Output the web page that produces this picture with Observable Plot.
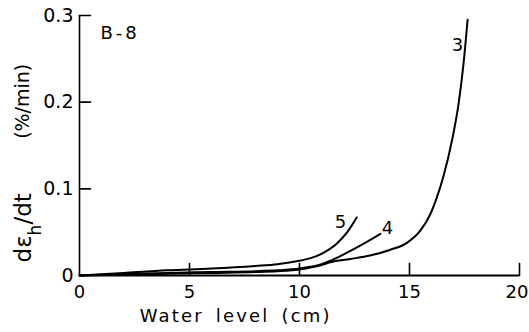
<!DOCTYPE html>
<html>
<head>
<meta charset="utf-8">
<script src="https://cdn.jsdelivr.net/npm/d3@7"></script>
<script src="https://cdn.jsdelivr.net/npm/@observablehq/plot@0.6"></script>
<style>
  html, body { margin: 0; padding: 0; background: #fff; }
  #chart svg { display: block; }
  .spaced text { letter-spacing: 2.2px; word-spacing: 4px; }
  .tag text { letter-spacing: 3px; }
</style>
</head>
<body>
<div id="chart"></div>
<script>
// Creep strain rate against water level, specimen B-8
const curve3X = [0, 2, 4, 6, 8, 9, 10, 11, 11.4, 12.3, 13.2, 14.1, 14.9, 15.5, 15.95, 16.2, 16.55, 16.95, 17.23, 17.45, 17.64];
const curve3Y = [0, 0.001, 0.002, 0.003, 0.004, 0.005, 0.007, 0.012, 0.0153, 0.019, 0.023, 0.0295, 0.038, 0.052, 0.071, 0.087, 0.115, 0.158, 0.198, 0.243, 0.295];

const curve4X = [0, 2, 4, 6, 8, 9, 10, 10.5, 11, 11.4, 11.9, 12.8, 13.68];
const curve4Y = [0, 0.0015, 0.003, 0.004, 0.005, 0.006, 0.008, 0.010, 0.013, 0.017, 0.023, 0.035, 0.048];

const curve5X = [0, 2, 4, 6, 8, 9, 10, 10.5, 11, 11.4, 11.7, 12.17, 12.6];
const curve5Y = [0, 0.003, 0.006, 0.008, 0.011, 0.013, 0.017, 0.020, 0.025, 0.031, 0.037, 0.050, 0.067];

const curveNames = ["3", "4", "5"];
const labelX = [17.18, 14.0, 11.86];
const labelY = [0.266, 0.054, 0.061];

const xTicks = [0, 5, 10, 15, 20];
const xTickLabels = ["0", "5", "10", "15", "20"];
const yTicks = [0, 0.1, 0.2, 0.3];
const yTickLabels = ["0", "0.1", "0.2", "0.3"];

const series = [
  {name: curveNames[0], xs: curve3X, ys: curve3Y},
  {name: curveNames[1], xs: curve4X, ys: curve4Y},
  {name: curveNames[2], xs: curve5X, ys: curve5Y}
];
const points = series.flatMap(s => s.xs.map((x, i) => ({name: s.name, x, y: s.ys[i]})));
const labels = curveNames.map((n, i) => ({name: n, x: labelX[i], y: labelY[i]}));
const xLabelRows = xTicks.map((x, i) => ({x, label: xTickLabels[i]}));

const font = "DejaVu Sans, sans-serif";

// plain straight tick stroke (no arrow head)
const tickShape = {
  draw(context, l) {
    context.moveTo(0, 0);
    context.lineTo(0, -l);
  }
};

const plot = Plot.plot({
  width: 529,
  height: 332,
  marginLeft: 79,
  marginRight: 10,
  marginTop: 15,
  marginBottom: 57,
  style: {fontFamily: font, background: "#fff", color: "#000"},
  x: {domain: [0, 20], axis: null},
  y: {domain: [0, 0.3], axis: null},
  marks: [
    // axis lines
    Plot.ruleY([0], {x1: 0, x2: 20, stroke: "#000", strokeWidth: 2}),
    Plot.ruleX([0], {y1: 0, y2: 0.3, stroke: "#000", strokeWidth: 1.6}),
    // inward ticks
    Plot.vector(xTicks.slice(1), {x: d => d, y: 0, length: 12, rotate: 0, anchor: "start", shape: tickShape, stroke: "#000", strokeWidth: 1.6}),
    Plot.vector(yTicks.slice(1), {x: 0, y: d => d, length: 11, rotate: 90, anchor: "start", shape: tickShape, stroke: "#000", strokeWidth: 1.6}),
    // tick labels (the last one kept inside the right edge)
    Plot.text(xLabelRows.slice(0, -1), {x: "x", y: 0, text: "label", dy: 17, fontSize: 18, fill: "#000"}),
    Plot.text(xLabelRows.slice(-1), {x: "x", y: 0, text: "label", dy: 17, dx: 9, textAnchor: "end", fontSize: 18, fill: "#000"}),
    Plot.text(yTicks, {x: 0, y: d => d, text: (d, i) => yTickLabels[i], dx: -6, textAnchor: "end", fontSize: 19, fill: "#000"}),
    // curves
    Plot.line(points, {x: "x", y: "y", z: "name", curve: "monotone-x", stroke: "#000", strokeWidth: 2}),
    Plot.text(labels, {x: "x", y: "y", text: "name", fontSize: 18, fill: "#000"}),
    // specimen tag
    Plot.text(["B-8"], {x: 0.95, y: 0.279, text: d => d, textAnchor: "start", fontSize: 18, fill: "#000", className: "tag"}),
    // axis titles
    Plot.text(["Water level (cm)"], {x: 7.1, frameAnchor: "bottom", lineAnchor: "middle", text: d => d, dy: 41, fontSize: 18, fill: "#000", className: "spaced"}),
    Plot.text(["(%/min)"], {y: 0.201, frameAnchor: "left", textAnchor: "middle", text: d => d, dx: -57, rotate: -90, fontSize: 19, fill: "#000"}),
    Plot.text(["dεh/dt"], {y: 0.055, frameAnchor: "left", textAnchor: "middle", text: d => d, dx: -56, rotate: -90, fontSize: 23, fill: "#000", className: "rate-label"})
  ]
});

// subscript h in the rate label
d3.select(plot).selectAll(".rate-label text").each(function() {
  const t = d3.select(this);
  t.text(null);
  t.append("tspan").text("dε");
  t.append("tspan").attr("baseline-shift", "sub").attr("font-size", "17").text("h");
  t.append("tspan").attr("baseline-shift", "0").text("/dt");
});

document.getElementById("chart").appendChild(plot);
</script>
</body>
</html>
